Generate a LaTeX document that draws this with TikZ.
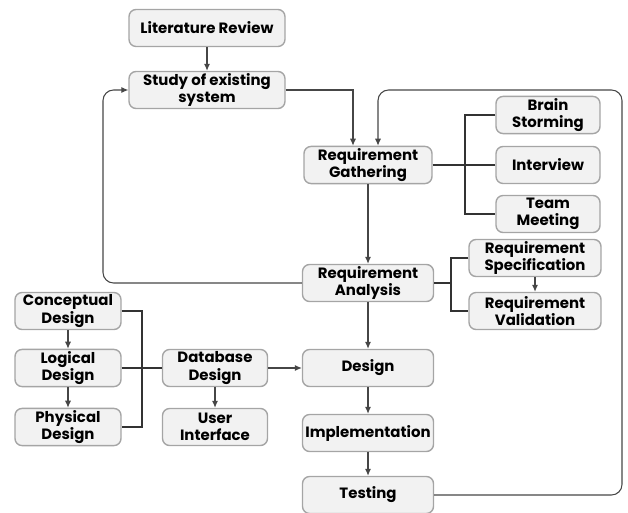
\documentclass[tikz,border=0pt]{standalone}
\usepackage{fontspec}
\setmainfont{Poppins}
\usepackage{tikz}
\usetikzlibrary{arrows.meta,positioning}
\definecolor{boxfill}{RGB}{242,242,242}
\definecolor{boxline}{RGB}{165,165,165}
\definecolor{wire}{RGB}{70,70,70}
\tikzset{
  stage/.style={rectangle, rounded corners=4pt, draw=boxline, fill=boxfill, thick, inner sep=1pt, minimum height=0.74cm, align=center, font=\fontsize{8.5}{10}\selectfont\bfseries},
  flow/.style={-{Latex[length=4pt,width=3.5pt]}, draw=wire, semithick},
  loop/.style={-{Latex[length=4pt,width=3.5pt]}, draw=wire, semithick, rounded corners=6pt},
  branch/.style={draw=black!80, thick} % plain joins, no tips
}

\begin{document}
\begin{tikzpicture}[x=0.02cm, y=-0.02cm]
  \useasboundingbox (0,0) rectangle (628,513);

  % Main column
  \node[stage, minimum width=3.12cm] (lit) at (207,28) {Literature Review};
  \node[stage, minimum width=3.12cm] (study) at (207,90) {Study of existing\\system};
  \node[stage, minimum width=2.56cm] (gather) at (368,165) {Requirement\\Gathering};
  \node[stage, minimum width=2.62cm] (analysis) at (368,283) {Requirement\\Analysis};
  \node[stage, minimum width=2.62cm] (design) at (368,368) {Design};
  \node[stage, minimum width=2.62cm] (impl) at (368,433) {Implementation};
  \node[stage, minimum width=2.62cm] (test) at (368,495) {Testing};

  % Gathering techniques
  \node[stage, minimum width=2.08cm] (brain) at (548,115) {Brain\\Storming};
  \node[stage, minimum width=2.08cm] (interview) at (548,165) {Interview};
  \node[stage, minimum width=2.08cm] (team) at (548,214) {Team\\Meeting};

  % Analysis outputs
  \node[stage, minimum width=2.64cm] (spec) at (535,258) {Requirement\\Specification};
  \node[stage, minimum width=2.64cm] (valid) at (535,311) {Requirement\\Validation};

  % Database side
  \node[stage, minimum width=2.12cm] (concept) at (68,311) {Conceptual\\Design};
  \node[stage, minimum width=2.12cm] (logical) at (68,368) {Logical\\Design};
  \node[stage, minimum width=2.12cm] (physical) at (68,427) {Physical\\Design};
  \node[stage, minimum width=2.1cm] (db) at (215,368) {Database\\Design};
  \node[stage, minimum width=2.1cm] (ui) at (215,427) {User\\Interface};

  % Forward flow
  \draw[flow] (lit) -- (study);
  \draw[flow] (study.east) -| (353,0 |- gather.north);
  \draw[flow] (gather) -- (analysis);
  \draw[flow] (analysis) -- (design);
  \draw[flow] (design) -- (impl);
  \draw[flow] (impl) -- (test);
  \draw[flow] (spec) -- (valid);
  \draw[flow] (db) -- (design);
  \draw[flow] (db) -- (ui);
  \draw[flow] (concept) -- (logical);
  \draw[flow] (logical) -- (physical);

  % Feedback loops
  \draw[loop] (test.east) -- (622,495) -- (622,90) -- (378,90) -- (378,0 |- gather.north);
  \draw[loop] (analysis.west) -- (103,283) -- (103,90) -- (study.west);

  % Branch joins
  \draw[branch] (gather.east) -- (465,165);
  \draw[branch] (brain.west) -| (465,0 |- team.west) -- (team.west);
  \draw[branch] (interview.west) -- (465,165);
  \draw[branch] (analysis.east) -- (451,283);
  \draw[branch] (spec.west) -| (451,0 |- valid.west) -- (valid.west);
  \draw[branch] (concept.east) -| (142,0 |- physical.east) -- (physical.east);
  \draw[branch] (logical.east) -- (db.west);
\end{tikzpicture}
\end{document}
